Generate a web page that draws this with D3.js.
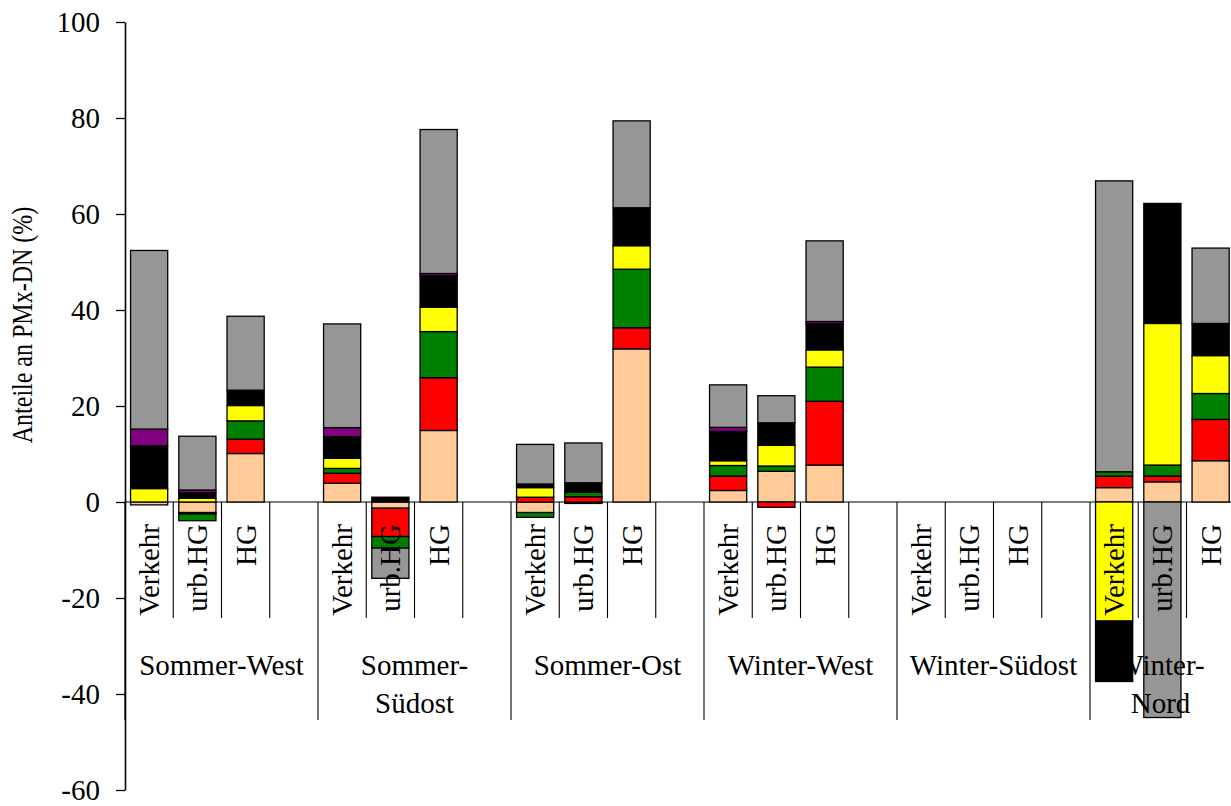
<!DOCTYPE html>
<html>
<head>
<meta charset="utf-8">
<script src="https://cdn.jsdelivr.net/npm/d3@7"></script>
<style>
  body { margin: 0; background: #fff; }
  svg { display: block; }
  text { font-family: "Liberation Serif", "Times New Roman", serif; fill: #000; }
</style>
</head>
<body>
<svg id="chart" width="1231" height="806"></svg>
<script>
// Site groups (multi-line labels split into lines) and the sources within each group
const groups = [["Sommer-West"], ["Sommer-", "Südost"], ["Sommer-Ost"], ["Winter-West"], ["Winter-Südost"], ["Winter-", "Nord"]];
const sources = ["Verkehr", "urb.HG", "HG", ""];
const yTicks = [-60, -40, -20, 0, 20, 40, 60, 80, 100];
const yTitle = "Anteile an PMx-DN (%)";

// Contributions per component, one value per slot (6 groups x 4 slots, last slot of each group empty)
const peach  = [-0.6, -2.2, 10.1, 0,   3.9, -1.3, 14.9, 0,   -2.2, -0.3, 31.9, 0,   2.4, 6.4, 7.7, 0,    0, 0, 0, 0,   3.0, 4.2, 8.6, 0];
const red    = [0, -0.3, 3.0, 0,       2.1, -5.9, 11.0, 0,   1.0, 1.1, 4.4, 0,      3.0, -1.1, 13.3, 0,  0, 0, 0, 0,   2.4, 1.2, 8.6, 0];
const green  = [0, -1.4, 3.8, 0,       1.0, -2.4, 9.6, 0,    -1.0, 0.9, 12.2, 0,    2.2, 1.1, 7.1, 0,    0, 0, 0, 0,   0.9, 2.3, 5.4, 0];
const yellow = [2.8, 0.8, 3.2, 0,      2.1, 0, 5.1, 0,       2.0, 0, 4.9, 0,        1.0, 4.3, 3.6, 0,    0, 0, 0, 0,   -24.8, 29.5, 7.9, 0];
const black  = [8.9, 1.1, 3.2, 0,      4.5, 1.0, 6.5, 0,     0.75, 2.0, 7.9, 0,     6.1, 4.7, 5.4, 0,    0, 0, 0, 0,   -12.6, 25.0, 6.7, 0];
const purple = [3.5, 0.6, 0, 0,        1.9, 0, 0.5, 0,       0, 0, 0, 0,            0.85, 0, 0.5, 0,     0, 0, 0, 0,   0, 0, 0, 0];
const gray   = [37.2, 11.2, 15.4, 0,   21.6, -6.3, 30.0, 0,  8.25, 8.3, 18.1, 0,    8.85, 5.65, 16.8, 0, 0, 0, 0, 0,   60.6, -44.9, 15.7, 0];

const seriesKeys = ["peach", "red", "green", "yellow", "black", "purple", "gray"];
const seriesValues = [peach, red, green, yellow, black, purple, gray];
const seriesColors = ["#FFCC99", "#FF0000", "#008000", "#FFFF00", "#000000", "#800080", "#969696"];

const svg = d3.select("#chart");
const left = 125, plotRight = 1231;
const nSlots = groups.length * sources.length;
const serif = "Liberation Serif, Times New Roman, serif";

const y = d3.scaleLinear().domain([-60, 100]).range([790, 22]);
const x = d3.scaleBand().domain(d3.range(nSlots)).range([left, left + nSlots * 48.25]).padding(0);
const bw = x.bandwidth();
const barW = bw * 0.77;

// table for stacking
const rows = d3.range(nSlots).map(i => {
  const r = { slot: i };
  seriesKeys.forEach((k, j) => r[k] = seriesValues[j][i]);
  return r;
});
const stacked = d3.stack().keys(seriesKeys).offset(d3.stackOffsetDiverging)(rows);

// zero line / category axis
svg.append("line")
  .attr("x1", left).attr("x2", plotRight)
  .attr("y1", y(0)).attr("y2", y(0))
  .attr("stroke", "#000").attr("stroke-width", 1.2);

// slot and group separators below the zero line
d3.range(nSlots + 1).forEach(i => {
  const xx = left + i * bw;
  svg.append("line")
    .attr("x1", xx).attr("x2", xx)
    .attr("y1", y(0)).attr("y2", i % sources.length === 0 ? 720 : 618)
    .attr("stroke", "#000").attr("stroke-width", 1.1);
});

// stacked bars
svg.append("g").selectAll("g")
  .data(stacked)
  .join("g")
  .attr("fill", (d, i) => seriesColors[i])
  .selectAll("rect")
  .data(d => d.filter(s => s[1] - s[0] !== 0))
  .join("rect")
  .attr("x", d => x(d.data.slot) + (bw - barW) / 2)
  .attr("width", barW)
  .attr("y", d => y(Math.max(d[0], d[1])))
  .attr("height", d => Math.abs(y(d[0]) - y(d[1])))
  .attr("stroke", "#000")
  .attr("stroke-width", 1.3);

// y axis
const yAxis = svg.append("g")
  .attr("transform", `translate(${left},0)`)
  .call(d3.axisLeft(y).tickValues(yTicks).tickFormat(d => String(d))
    .tickSize(9).tickSizeOuter(0).tickPadding(16));
yAxis.attr("font-family", serif).attr("font-size", 29);
yAxis.select(".domain").attr("stroke", "#000").attr("stroke-width", 1.6);
yAxis.selectAll(".tick line").attr("stroke", "#000").attr("stroke-width", 1.3);
yAxis.selectAll(".tick text").attr("dy", "0.34em");

// y title (narrow set)
svg.append("text")
  .attr("transform", `translate(32,325) rotate(-90) scale(0.8,1)`)
  .attr("text-anchor", "middle")
  .attr("font-family", serif)
  .attr("font-size", 30)
  .text(yTitle);

// source labels (rotated)
d3.range(nSlots).forEach(i => {
  const s = sources[i % sources.length];
  if (!s) return;
  const cx = x(i) + bw / 2;
  svg.append("text")
    .attr("transform", `translate(${cx + 10},524) rotate(-90)`)
    .attr("text-anchor", "end")
    .attr("font-family", serif)
    .attr("font-size", 29)
    .text(s);
});

// group labels
groups.forEach((lines, g) => {
  const g0 = left + g * sources.length * bw;
  const g1 = Math.min(g0 + sources.length * bw, plotRight);
  const cx = (g0 + g1) / 2;
  const t = svg.append("text").attr("text-anchor", "middle")
    .attr("font-family", serif).attr("font-size", 29);
  lines.forEach((ln, k) => {
    t.append("tspan").attr("x", cx).attr("y", 675 + k * 38).text(ln);
  });
});
</script>
</body>
</html>
